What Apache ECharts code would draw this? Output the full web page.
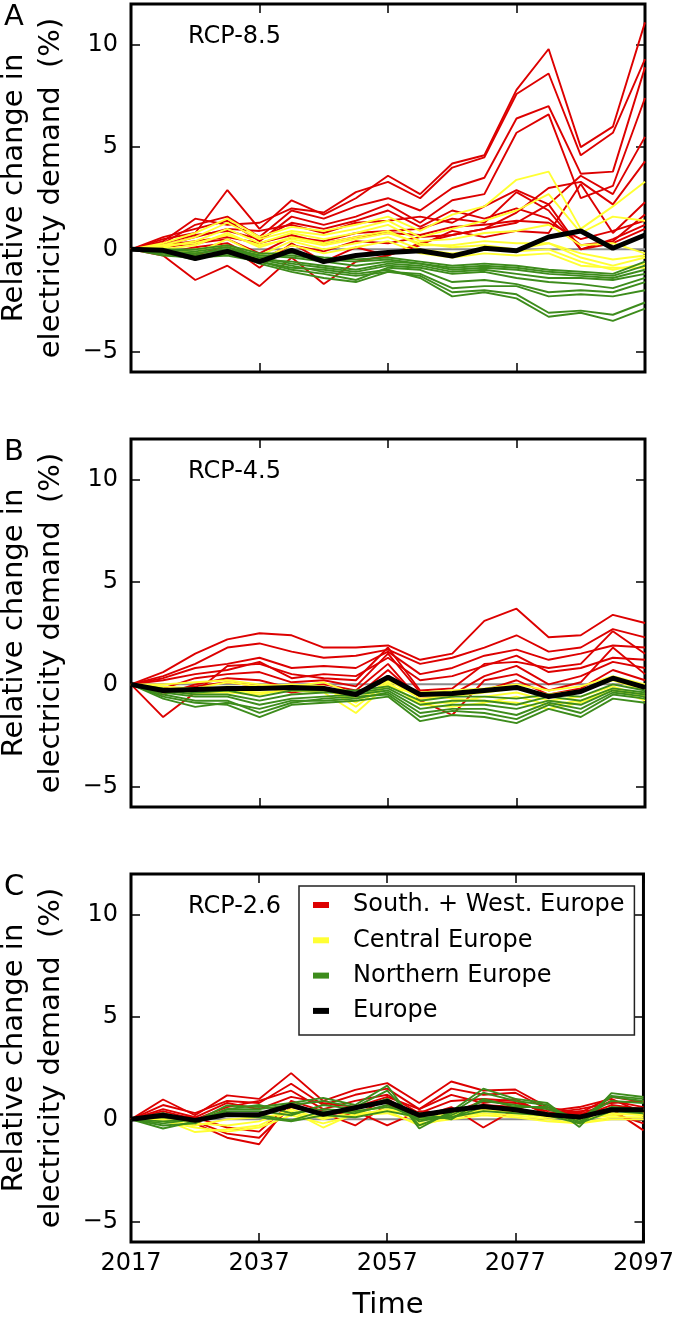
<!DOCTYPE html>
<html>
<head>
<meta charset="utf-8">
<script src="https://cdn.jsdelivr.net/npm/echarts@6/dist/echarts.min.js"></script>
<style>
html,body{margin:0;padding:0;background:#fff;}
#chart{width:677px;height:1320px;}
</style>
</head>
<body>
<div id="chart"></div>
<script>
// ---------------- DATA ----------------
const YEARS = [2017,2022,2027,2032,2037,2042,2047,2052,2057,2062,2067,2072,2077,2082,2087,2092,2097];
const X_TICKS = [2017,2037,2057,2077,2097];
const Y_TICKS = [-5,0,5,10];
const GROUP_NAMES = ['South. + West. Europe','Central Europe','Northern Europe','Europe'];
const PANEL_LETTERS = ['A','B','C'];
const SCENARIOS = ['RCP-8.5','RCP-4.5','RCP-2.6'];

// Panel A (RCP-8.5)
const A_SOUTH = [
  [0,0.5,0.8,2.9,1.0,2.4,1.7,2.5,3.6,2.7,4.2,4.6,7.8,9.8,5.0,6.0,11.1],
  [0,0.4,1.5,1.2,1.3,2.0,1.8,2.8,3.3,2.5,4.0,4.5,7.6,8.6,4.6,5.7,9.3],
  [0,0.3,1.2,1.6,0.6,1.9,1.5,2.1,2.5,1.9,3.0,3.5,6.4,7.0,3.7,3.8,8.9],
  [0,0.6,1.0,1.4,0.4,1.6,1.2,1.6,2.2,1.3,2.4,2.7,5.7,6.6,2.5,3.1,7.4],
  [0,0.2,0.6,1.0,0.9,1.2,0.8,1.3,1.4,1.6,1.3,2.1,2.9,2.2,3.6,2.7,5.5],
  [0,-0.3,-1.5,-0.8,-1.8,-0.4,-1.7,-0.6,-0.3,0.3,0.7,1.0,1.8,3.0,3.3,2.2,4.3],
  [0,0.1,0.3,0.5,-0.2,0.6,0.4,0.8,0.9,1.0,1.5,1.3,2.8,1.9,0.0,0.5,1.2],
  [0,-0.2,0.1,0.3,-0.5,0.2,-0.1,0.4,0.3,0.6,0.7,1.0,1.3,2.2,0.0,0.3,1.0],
  [0,0.3,0.7,0.9,0.5,1.3,1.0,1.4,1.9,1.1,1.9,1.5,2.0,1.5,0.2,0.4,1.7],
  [0,-0.1,-0.3,0.2,-0.9,0.3,-0.6,0.1,-0.3,0.2,0.9,0.6,0.9,0.8,3.2,0.8,2.3],
  [0,0.2,0.4,0.6,0.3,0.7,0.3,0.6,0.8,0.7,1.1,1.2,1.4,1.3,0.5,0.9,1.4]
];
const A_CENTRAL = [
  [0,0.3,0.8,1.5,0.6,1.1,0.9,1.2,1.6,0.9,1.7,2.1,3.4,3.8,1.0,2.1,3.3],
  [0,0.2,0.6,1.3,0.5,0.9,0.7,1.0,1.4,0.6,1.0,1.4,1.9,2.7,0.8,1.6,1.4],
  [0,0.1,0.4,1.0,0.3,0.8,0.5,0.8,1.2,0.4,0.5,0.8,0.9,1.2,0.2,0.3,-0.2],
  [0,0.0,0.2,0.8,0.1,0.6,0.3,0.6,0.9,0.2,0.2,0.4,0.3,0.3,-0.4,-0.8,-0.4],
  [0,0.1,-0.2,0.5,-0.3,0.4,0.0,0.3,0.6,0.0,-0.2,0.0,-0.1,0.0,-0.6,-1.0,-0.7],
  [0,-0.1,0.0,0.2,-0.5,0.2,-0.2,0.1,0.4,-0.2,-0.4,-0.2,-0.3,-0.2,-0.8,-0.9,-0.9],
  [0,0.2,0.3,0.7,0.2,0.5,0.2,0.5,0.8,0.3,0.1,0.2,0.0,0.3,-0.2,-0.5,-0.3]
];
const A_NORTH = [
  [0,-0.2,-0.4,-0.3,-0.6,-0.9,-1.0,-1.2,-1.0,-1.4,-2.3,-2.1,-2.4,-3.3,-3.1,-3.5,-2.9],
  [0,-0.1,-0.3,-0.2,-0.5,-0.8,-1.1,-1.3,-1.1,-1.3,-2.1,-2.0,-2.2,-3.1,-3.0,-3.2,-2.6],
  [0,-0.2,-0.5,-0.1,-0.7,-1.1,-1.4,-1.6,-1.1,-1.2,-1.9,-1.8,-1.8,-2.3,-2.2,-2.3,-2.0],
  [0,-0.3,-0.4,-0.2,-0.6,-1.0,-1.2,-1.5,-0.9,-1.0,-1.6,-1.5,-1.7,-2.1,-2.0,-2.1,-1.6],
  [0,-0.1,-0.2,0.0,-0.4,-0.7,-0.9,-1.1,-0.8,-0.9,-1.2,-1.1,-1.4,-1.6,-1.7,-1.9,-1.4],
  [0,-0.2,-0.3,-0.1,-0.5,-0.6,-0.8,-1.0,-0.7,-0.8,-1.1,-1.0,-1.2,-1.4,-1.4,-1.5,-1.2],
  [0,0.0,-0.1,0.1,-0.3,-0.4,-0.6,-0.8,-0.6,-0.7,-1.0,-0.9,-1.0,-1.2,-1.3,-1.4,-1.0],
  [0,-0.1,-0.2,0.0,-0.3,-0.3,-0.5,-0.6,-0.5,-0.7,-0.9,-0.8,-0.9,-1.1,-1.2,-1.3,-0.8],
  [0,0.0,0.0,0.2,-0.2,-0.2,-0.4,-0.5,-0.4,-0.6,-0.8,-0.7,-0.8,-1.0,-1.1,-1.2,-0.6]
];
const A_EUROPE = [0,-0.05,-0.45,-0.1,-0.6,-0.05,-0.6,-0.3,-0.15,-0.07,-0.33,0.05,-0.07,0.6,0.9,0.05,0.7];

// Panel B (RCP-4.5)
const B_SOUTH = [
  [0,0.6,1.5,2.2,2.5,2.4,1.8,1.8,1.9,1.2,1.5,3.1,3.7,2.3,2.4,3.4,3.0],
  [0,0.4,1.0,1.8,2.0,1.6,1.3,1.4,1.7,1.0,1.3,1.8,2.4,1.6,1.8,2.7,2.3],
  [0,0.3,0.8,1.0,1.3,0.8,0.9,0.8,1.6,0.5,0.8,1.4,1.7,1.2,1.5,1.9,1.8],
  [0,-1.6,-0.4,0.9,1.0,0.5,0.3,0.2,1.8,-0.3,-0.2,1.0,1.1,0.8,1.0,2.6,1.5],
  [0,0.2,0.5,0.7,1.1,0.3,0.5,0.4,1.3,0.2,0.4,0.9,1.4,0.6,0.8,1.3,1.2],
  [0,-0.2,0.3,0.5,0.6,0.1,0.2,-0.1,1.5,-0.4,-0.5,0.4,0.9,0.0,0.4,1.1,0.8],
  [0,-0.5,0.0,0.3,0.2,-0.2,0.0,-0.3,1.0,-0.8,-1.5,0.2,0.5,-0.3,0.1,1.8,0.5],
  [0,-0.3,-0.1,0.1,-0.1,-0.4,-0.2,-0.6,0.7,-0.7,-0.6,-0.3,0.2,-0.5,-0.2,0.7,0.2]
];
const B_CENTRAL = [
  [0,-0.2,-0.3,-0.1,-0.2,-0.1,-0.2,-0.9,0.2,-0.7,-0.6,-0.4,-0.2,-0.5,-0.3,0.2,-0.3],
  [0,-0.3,-0.5,-0.3,-0.4,-0.3,-0.4,-1.4,0.0,-0.9,-0.9,-0.6,-0.4,-0.8,-0.6,-0.1,-0.6],
  [0,-0.1,-0.2,0.1,-0.1,0.0,-0.1,-1.1,0.1,-1.0,-1.1,-0.9,-0.6,-1.0,-0.8,-0.2,-0.8],
  [0,-0.2,-0.4,-0.4,-0.5,-0.2,-0.3,-0.7,-0.1,-0.5,-0.7,-0.8,-0.9,-1.2,-0.9,-0.3,-0.5],
  [0,0.0,0.1,0.2,0.0,-0.1,0.1,-0.5,0.3,-0.4,-0.3,-0.2,0.0,-0.3,-0.1,0.4,0.0]
];
const B_NORTH = [
  [0,-0.6,-0.9,-1.0,-1.6,-1.0,-0.9,-0.8,-0.6,-1.8,-1.5,-1.6,-1.9,-1.2,-1.6,-0.7,-0.9],
  [0,-0.5,-0.8,-0.8,-1.4,-0.9,-0.7,-0.6,-0.5,-1.6,-1.3,-1.4,-1.7,-1.0,-1.4,-0.5,-0.7],
  [0,-0.7,-1.1,-0.9,-1.2,-0.8,-0.8,-0.7,-0.4,-1.4,-1.2,-1.2,-1.5,-0.9,-1.2,-0.4,-0.6],
  [0,-0.4,-0.6,-0.6,-1.0,-0.7,-0.6,-0.5,-0.3,-1.2,-1.0,-1.0,-1.2,-0.8,-1.0,-0.3,-0.5],
  [0,-0.3,-0.5,-0.5,-0.8,-0.5,-0.4,-0.4,-0.2,-1.0,-0.8,-0.8,-1.0,-0.6,-0.8,-0.2,-0.4],
  [0,-0.2,-0.4,-0.3,-0.6,-0.3,-0.3,-0.3,-0.1,-0.8,-0.6,-0.6,-0.7,-0.5,-0.6,0.0,-0.3]
];
const B_EUROPE = [0,-0.3,-0.25,-0.2,-0.2,-0.15,-0.2,-0.5,0.35,-0.5,-0.45,-0.3,-0.15,-0.6,-0.35,0.3,-0.15];

// Panel C (RCP-2.6)
const C_SOUTH = [
  [0,0.97,0.2,1.17,1.0,2.26,0.9,1.44,1.77,0.8,1.85,1.41,1.46,0.6,0.3,1.1,0.84],
  [0,0.7,0.3,0.9,0.8,1.74,0.7,1.2,1.5,0.5,1.5,1.2,1.3,0.5,0.2,0.9,0.6],
  [0,0.4,0.0,0.6,0.9,1.4,0.5,0.9,1.2,0.3,0.9,1.0,0.9,0.3,0.5,0.8,0.9],
  [0,0.3,-0.2,-0.9,-1.22,0.9,0.4,0.2,1.0,0.1,0.6,-0.4,0.5,0.2,0.4,0.5,-0.54],
  [0,0.1,-0.1,-0.7,-0.9,0.6,0.3,-0.3,0.7,0.2,0.4,0.7,0.6,0.1,0.3,0.3,-0.2],
  [0,0.2,0.1,-0.4,-0.6,0.8,0.2,0.4,-0.3,0.4,0.3,0.9,0.8,0.4,0.6,1.0,0.3],
  [0,0.5,0.1,0.8,0.5,1.1,0.8,0.6,1.1,0.5,1.2,0.8,1.0,0.2,0.1,0.7,0.5]
];
const C_CENTRAL = [
  [0,0.0,-0.62,-0.5,-0.3,0.4,-0.4,0.3,0.4,-0.3,0.1,0.3,0.2,0.0,-0.2,0.1,0.1],
  [0,-0.1,-0.4,-0.6,-0.4,0.2,-0.2,0.2,0.3,-0.2,0.0,0.2,0.1,-0.1,-0.2,0.0,0.0],
  [0,0.1,-0.2,-0.3,-0.1,0.5,0.0,0.4,0.6,-0.1,0.2,0.5,0.3,0.1,0.0,0.2,0.3],
  [0,0.0,-0.3,0.0,0.1,0.3,0.1,0.2,0.5,0.0,0.3,0.4,0.4,0.2,-0.1,0.3,0.2]
];
const C_NORTH = [
  [0,-0.45,-0.1,0.68,0.6,0.8,1.05,0.7,1.65,-0.45,0.4,1.5,1.0,0.8,-0.37,1.28,1.09],
  [0,-0.3,-0.2,0.5,0.5,0.7,0.9,0.6,1.4,-0.3,0.3,1.3,0.9,0.7,-0.2,1.15,1.0],
  [0,0.3,-0.1,0.4,0.4,0.2,0.7,0.5,1.0,-0.1,0.2,0.9,0.7,0.5,0.0,0.9,0.8],
  [0,-0.2,0.0,0.3,0.2,-0.05,0.4,0.3,0.7,0.0,0.1,0.6,0.5,0.3,-0.1,0.6,0.5],
  [0,-0.1,0.0,0.2,0.1,-0.1,0.2,0.1,0.4,0.1,0.1,0.4,0.3,0.2,-0.2,0.4,0.3],
  [0,0.1,-0.1,0.5,0.7,0.3,0.5,0.4,0.6,0.3,0.0,1.0,0.6,0.6,0.0,1.1,0.9]
];
const C_EUROPE = [0,0.2,-0.05,0.23,0.23,0.68,0.24,0.57,0.88,0.2,0.44,0.63,0.47,0.23,0.11,0.47,0.47];

// ---------------- STYLE / LAYOUT ----------------
const FONT = 'DejaVu Sans';
const COLORS = ['#dd0000','#ffff33','#3d8c1c','#000000'];
const GRID_LEFT = 131, GRID_W = 514, GRID_H = 368;
const GRID_TOPS = [4, 439, 874];

const panels = [
  {south:A_SOUTH, central:A_CENTRAL, north:A_NORTH, europe:A_EUROPE},
  {south:B_SOUTH, central:B_CENTRAL, north:B_NORTH, europe:B_EUROPE},
  {south:C_SOUTH, central:C_CENTRAL, north:C_NORTH, europe:C_EUROPE}
];

const toPts = arr => YEARS.map((y,i)=>[y, arr[i]]);

const grids = [], xAxes = [], yAxes = [], series = [], graphics = [];
const tickStyle = {show:true, inside:true, length:9, lineStyle:{color:'#000', width:1.5}};
const noLine = {show:false, onZero:false};

panels.forEach((p, i) => {
  grids.push({left:GRID_LEFT, top:GRID_TOPS[i], width:GRID_W, height:GRID_H,
    show:true, borderColor:'#000', borderWidth:3, backgroundColor:'transparent'});
  const isLast = i === 2;
  xAxes.push({type:'value', gridIndex:i, min:2017, max:2097, position:'bottom',
    axisLine:noLine, splitLine:{show:false},
    axisTick:Object.assign({customValues:X_TICKS}, tickStyle),
    axisLabel:{show:isLast, customValues:X_TICKS, fontFamily:FONT, fontSize:24, color:'#000', margin:10,
      formatter: v => String(v)}});
  xAxes.push({type:'value', gridIndex:i, min:2017, max:2097, position:'top',
    axisLine:noLine, splitLine:{show:false},
    axisTick:Object.assign({customValues:X_TICKS}, tickStyle),
    axisLabel:{show:false}});
  yAxes.push({type:'value', gridIndex:i, min:-6, max:12, position:'left',
    axisLine:noLine, splitLine:{show:false},
    axisTick:Object.assign({customValues:Y_TICKS}, tickStyle),
    axisLabel:{customValues:Y_TICKS, fontFamily:FONT, fontSize:24, color:'#000', margin:13,
      formatter: v => (v < 0 ? '\u2212' + Math.abs(v) : String(v))}});
  yAxes.push({type:'value', gridIndex:i, min:-6, max:12, position:'right',
    axisLine:noLine, splitLine:{show:false},
    axisTick:Object.assign({customValues:Y_TICKS}, tickStyle),
    axisLabel:{show:false}});

  const xi = i*2, yi = i*2;
  series.push({type:'line', xAxisIndex:xi, yAxisIndex:yi, data:[[2017,0],[2097,0]],
    symbol:'none', silent:true, lineStyle:{color:'#8c8c8c', width:2}, z:1});
  const groups = [p.south, p.central, p.north];
  groups.forEach((g, gi) => {
    g.forEach(arr => {
      series.push({type:'line', name:GROUP_NAMES[gi], xAxisIndex:xi, yAxisIndex:yi,
        data:toPts(arr), symbol:'none', silent:true, color:COLORS[gi],
        lineStyle:{color:COLORS[gi], width:1.9}, z:2});
    });
  });
  series.push({type:'line', name:GROUP_NAMES[3], xAxisIndex:xi, yAxisIndex:yi,
    data:toPts(p.europe), symbol:'none', silent:true, color:COLORS[3],
    lineStyle:{color:COLORS[3], width:5}, z:3});

  const top = GRID_TOPS[i];
  graphics.push({type:'text', x:4, y:top+13,
    style:{text:PANEL_LETTERS[i], font:'29px "DejaVu Sans"', fill:'#000', textAlign:'left', textVerticalAlign:'middle'}});
  graphics.push({type:'text', x:188, y:top+33,
    style:{text:SCENARIOS[i], font:'24px "DejaVu Sans"', fill:'#000', textAlign:'left', textVerticalAlign:'middle'}});
  graphics.push({type:'text', x:33, y:top+GRID_H/2, rotation:Math.PI/2,
    style:{text:'Relative change in\nelectricity demand  (%)', font:'29px "DejaVu Sans"', fill:'#000',
      textAlign:'center', textVerticalAlign:'middle', lineHeight:37}});
});
graphics.push({type:'text', x:GRID_LEFT + GRID_W/2, y:1305,
  style:{text:'Time', font:'29px "DejaVu Sans"', fill:'#000', textAlign:'center', textVerticalAlign:'middle'}});

const chart = echarts.init(document.getElementById('chart'), null, {renderer:'canvas'});
chart.setOption({
  animation:false,
  backgroundColor:'#fff',
  grid:grids, xAxis:xAxes, yAxis:yAxes, series:series, graphic:graphics,
  legend:{data:GROUP_NAMES, left:299, top:886, orient:'vertical', icon:'rect',
    itemWidth:16, itemHeight:6, itemGap:7.3, padding:[5,10,10,14],
    borderColor:'#222', borderWidth:1.5, backgroundColor:'#fff', selectedMode:false,
    textStyle:{fontFamily:FONT, fontSize:24, color:'#000', lineHeight:28, padding:[0,0,0,19]}}
});
</script>
</body>
</html>
